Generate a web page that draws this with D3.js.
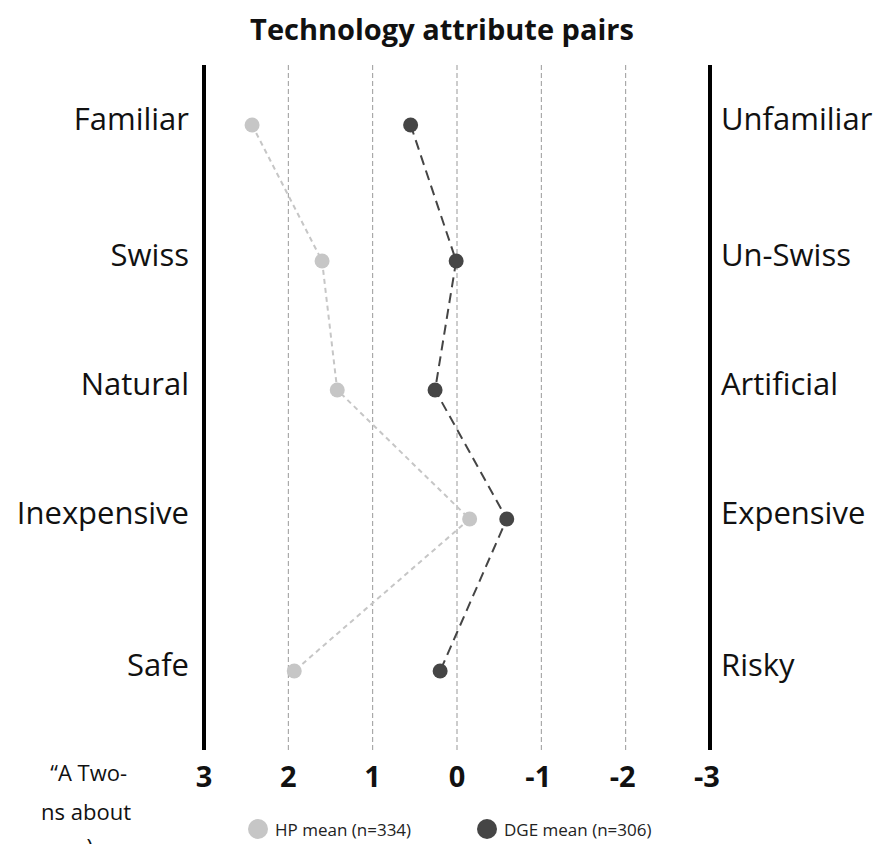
<!DOCTYPE html>
<html>
<head>
<meta charset="utf-8">
<script src="https://cdn.jsdelivr.net/npm/d3@7"></script>
<style>
  body { margin: 0; background: #fff; }
  svg { display: block; }
</style>
</head>
<body>
<svg id="chart" width="886" height="844"></svg>
<script>
// data
const leftLabels = ['Familiar', 'Swiss', 'Natural', 'Inexpensive', 'Safe'];
const rightLabels = ['Unfamiliar', 'Un-Swiss', 'Artificial', 'Expensive', 'Risky'];
const hpMean = [2.43, 1.60, 1.42, -0.15, 1.93];
const dgeMean = [0.55, 0.01, 0.26, -0.59, 0.20];
const xTicks = [3, 2, 1, 0, -1, -2, -3];

// small stand-in for d3-selection-multi
d3.selection.prototype.attrs = function (o) {
  Object.keys(o).forEach(k => this.attr(k, o[k]));
  return this;
};

const font = "'Open Sans', 'Liberation Sans', sans-serif";
const svg = d3.select('#chart');

const x = d3.scaleLinear().domain([3, -3]).range([204, 710]);
const y = d3.scaleOrdinal().domain(leftLabels).range([125, 261, 390, 519, 671]);
const plotTop = 65, plotBottom = 745;

/****************** title ******************/
svg.append('text')
  .text('Technology attribute pairs')
  .attrs({
    x: 442, y: 40,
    'text-anchor': 'middle',
    'font-size': '29px',
    'font-weight': 700,
    'font-family': font,
    fill: '#111',
  });

/****************** grid ******************/
svg.selectAll('.grid')
  .data(xTicks.filter(d => Math.abs(d) !== 3))
  .join('line')
  .attrs({
    x1: d => x(d), x2: d => x(d),
    y1: plotTop, y2: plotBottom + 5,
    stroke: '#999',
    'stroke-width': 1,
    'stroke-dasharray': '5,3',
  });

// side bars
svg.selectAll('.side')
  .data([3, -3])
  .join('line')
  .attrs({
    x1: d => x(d), x2: d => x(d),
    y1: plotTop, y2: plotBottom + 5,
    stroke: '#000',
    'stroke-width': 4,
  });

// tick labels
svg.selectAll('.tick')
  .data(xTicks)
  .join('text')
  .text(d => d)
  .attrs({
    x: d => x(d) - (d < 0 ? 3 : 0),
    y: 787,
    'text-anchor': 'middle',
    'font-size': '29px',
    'font-weight': 700,
    'font-family': font,
    fill: '#111',
  });

/****************** row labels ******************/
svg.selectAll('.lab-l')
  .data(leftLabels)
  .join('text')
  .text(d => d)
  .attrs({
    x: 189,
    y: d => y(d) - 7,
    'text-anchor': 'end',
    'dominant-baseline': 'central',
    'font-size': '31px',
    'font-family': font,
    fill: '#111',
  });

svg.selectAll('.lab-r')
  .data(rightLabels)
  .join('text')
  .text(d => d)
  .attrs({
    x: 721,
    y: (d, i) => y(leftLabels[i]) - 7,
    'text-anchor': 'start',
    'dominant-baseline': 'central',
    'font-size': '31px',
    'font-family': font,
    fill: '#111',
  });

/****************** series ******************/
const series = [
  { values: hpMean, color: '#c6c6c6', dash: '5,4', width: 2 },
  { values: dgeMean, color: '#454545', dash: '10,6', width: 2 },
];

series.forEach(s => {
  const line = d3.line()
    .x(d => x(d))
    .y((d, i) => y(leftLabels[i]));
  svg.append('path')
    .attr('d', line(s.values))
    .attrs({
      fill: 'none',
      stroke: s.color,
      'stroke-width': s.width,
      'stroke-dasharray': s.dash,
    });
  svg.append('g').selectAll('circle')
    .data(s.values)
    .join('circle')
    .attrs({
      cx: d => x(d),
      cy: (d, i) => y(leftLabels[i]),
      r: 7.5,
      fill: s.color,
    });
});

/****************** legend ******************/
const legend = [
  { label: 'HP mean (n=334)', color: '#c6c6c6', cx: 258 },
  { label: 'DGE mean (n=306)', color: '#454545', cx: 487 },
];
legend.forEach(l => {
  svg.append('circle').attrs({ cx: l.cx, cy: 829, r: 10, fill: l.color });
  svg.append('text')
    .text(l.label)
    .attrs({
      x: l.cx + 17, y: 829,
      'dominant-baseline': 'central',
      'font-size': '17px',
      'font-family': font,
      fill: '#222',
    });
});

/****************** cropped caption ******************/
svg.append('text').text('\u201CA Two-').attrs({
  x: 127, y: 781, 'text-anchor': 'end',
  'font-size': '22px', 'font-family': font, fill: '#111',
});
svg.append('text').text('ns about').attrs({
  x: 131, y: 820, 'text-anchor': 'end',
  'font-size': '22px', 'font-family': font, fill: '#111',
});
svg.append('text').text(')').attrs({
  x: 93, y: 855, 'text-anchor': 'end',
  'font-size': '22px', 'font-family': font, fill: '#111',
});
</script>
</body>
</html>
